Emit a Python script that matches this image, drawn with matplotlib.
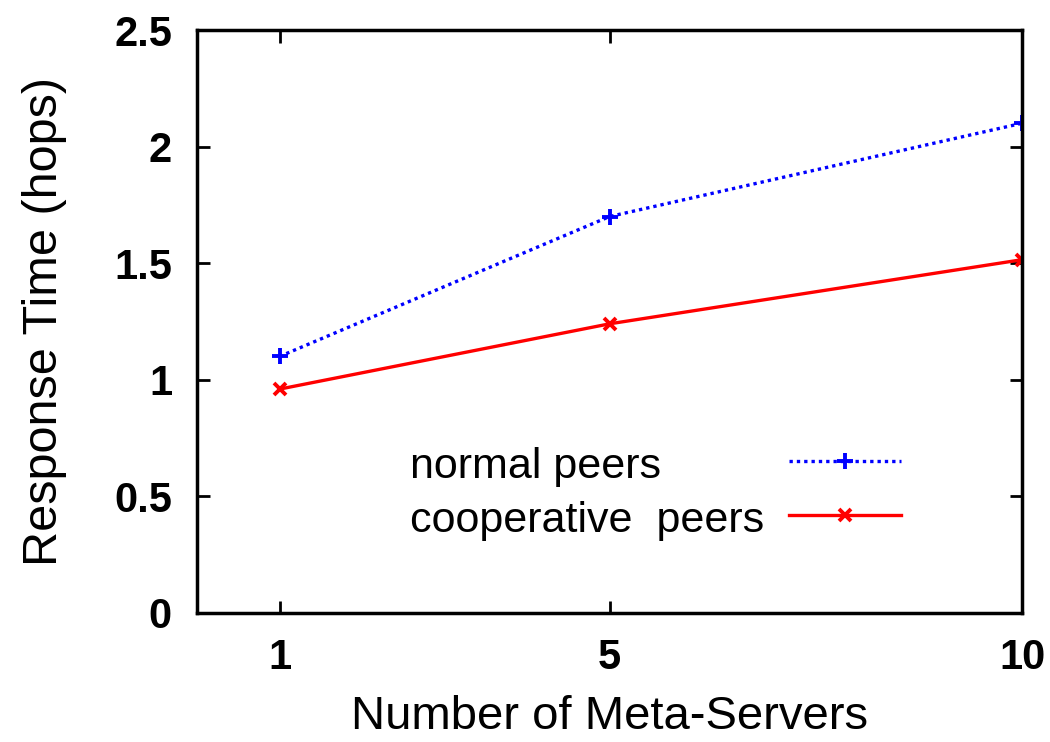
import matplotlib.pyplot as plt

plt.rcParams['font.family'] = ['Liberation Sans', 'DejaVu Sans']

# Data
servers = [1, 5, 10]
normal_peers = [1.10, 1.70, 2.10]
coop_peers = [0.96, 1.24, 1.515]
series_labels = ["normal peers", "cooperative  peers"]
y_ticks = [0, 0.5, 1, 1.5, 2, 2.5]
y_tick_labels = ["0", "0.5", "1", "1.5", "2", "2.5"]

fig = plt.figure(figsize=(10.5, 7.42), dpi=100)
ax = fig.add_axes([197 / 1050, 1 - 613 / 742, 825 / 1050, 583 / 742])

l1, = ax.plot(servers, normal_peers, color="blue", linestyle=(0, (1, 1.2)), linewidth=2.4,
              marker="+", markersize=11, markeredgewidth=2.8)
l2, = ax.plot(servers, coop_peers, color="red", linestyle="-", linewidth=2.4,
              marker="x", markersize=9, markeredgewidth=2.8)

ax.set_xlim(0, 10)
ax.set_ylim(0, 2.5)
ax.set_xticks(servers)
ax.set_xticklabels([str(s) for s in servers], fontweight="bold")
ax.set_yticks(y_ticks)
ax.set_yticklabels(y_tick_labels, fontweight="bold")

ax.tick_params(direction="in", top=True, right=True, length=9, width=2,
               labelsize=30, pad=18)
ax.tick_params(axis="x", pad=18)
for sp in ax.spines.values():
    sp.set_linewidth(2.5)

ax.set_xlabel("Number of Meta-Servers", fontsize=34, labelpad=12)
ax.set_ylabel("Response Time (hops)", fontsize=35, labelpad=34)

# key: labels left-aligned, samples to the right
for lab, yf in zip(series_labels, [0.25, 0.157]):
    ax.text(0.258, yf, lab, transform=ax.transAxes, fontsize=31, va="center", ha="left")
ax.legend([l1, l2], ["", ""], loc="center", bbox_to_anchor=(0.7855, 0.208), frameon=False,
          fontsize=31, handlelength=2.6, handletextpad=0, labelspacing=0.32,
          borderpad=0, borderaxespad=0)

fig.savefig("out.png", dpi=100)
